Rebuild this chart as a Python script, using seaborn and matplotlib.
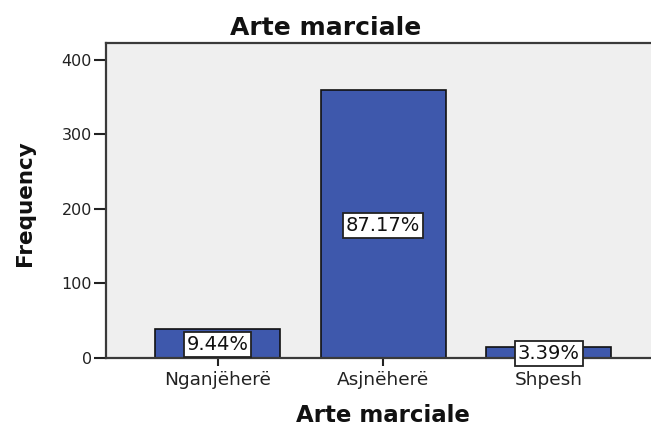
import matplotlib
matplotlib.use("Agg")
import matplotlib.pyplot as plt
import seaborn as sns
import pandas as pd

categories = ["Nganjëherë", "Asjnëherë", "Shpesh"]
frequencies = [39, 360, 14]
percent_labels = ["9.44%", "87.17%", "3.39%"]
y_ticks = [0, 100, 200, 300, 400]

sns.set_theme(style="white")
plt.rcParams["font.family"] = ["DejaVu Sans"]

W, H = 651, 429
fig = plt.figure(figsize=(W / 100, H / 100), dpi=100)
fig.patch.set_facecolor("white")

left, right, top, bottom = 106, 660, 43, 357.5
ax = fig.add_axes([left / W, 1 - bottom / H, (right - left) / W, (bottom - top) / H])
ax.set_facecolor("#efefef")

df = pd.DataFrame({"cat": categories, "freq": frequencies})
sns.barplot(data=df, x="cat", y="freq", order=categories, color="#3e58ac",
            saturation=1, width=0.754, edgecolor="#111111", linewidth=1.2, ax=ax)

ax.set_xlim(-0.673, 2.67)
ax.set_ylim(0, 423)
ax.set_yticks(y_ticks)

for s in ax.spines.values():
    s.set_visible(True)
    s.set_color("#3a3a3a")
    s.set_linewidth(1.6)

ax.tick_params(axis="y", which="major", direction="out", length=9, width=1.5,
               color="#222222", pad=1, labelsize=11.5, labelcolor="#222222", left=True)
ax.tick_params(axis="x", which="major", direction="out", length=6, width=1.5,
               color="#222222", pad=4, labelsize=13.3, labelcolor="#222222", bottom=True)

ax.set_xlabel("Arte marciale", fontsize=16.5, fontweight="bold", color="#111111")
ax.set_ylabel("Frequency", fontsize=15.5, fontweight="bold", color="#111111")
ax.xaxis.set_label_coords(0.5, -0.148)
ax.yaxis.set_label_coords(-0.128, 0.49)

for patch, lab in zip(ax.patches, percent_labels):
    cx = patch.get_x() + patch.get_width() / 2
    cy = patch.get_height() / 2
    ax.text(cx, cy - 2, lab, ha="center", va="center", fontsize=14, color="#111111",
            bbox=dict(boxstyle="square,pad=0.15", facecolor="white", edgecolor="#222222",
                      linewidth=1.3), clip_on=False, zorder=5)

fig.text(0.5, 1 - 28 / H, "Arte marciale", ha="center", va="center",
         fontsize=18, fontweight="bold", color="#111111")

fig.savefig("out.png", dpi=100)
